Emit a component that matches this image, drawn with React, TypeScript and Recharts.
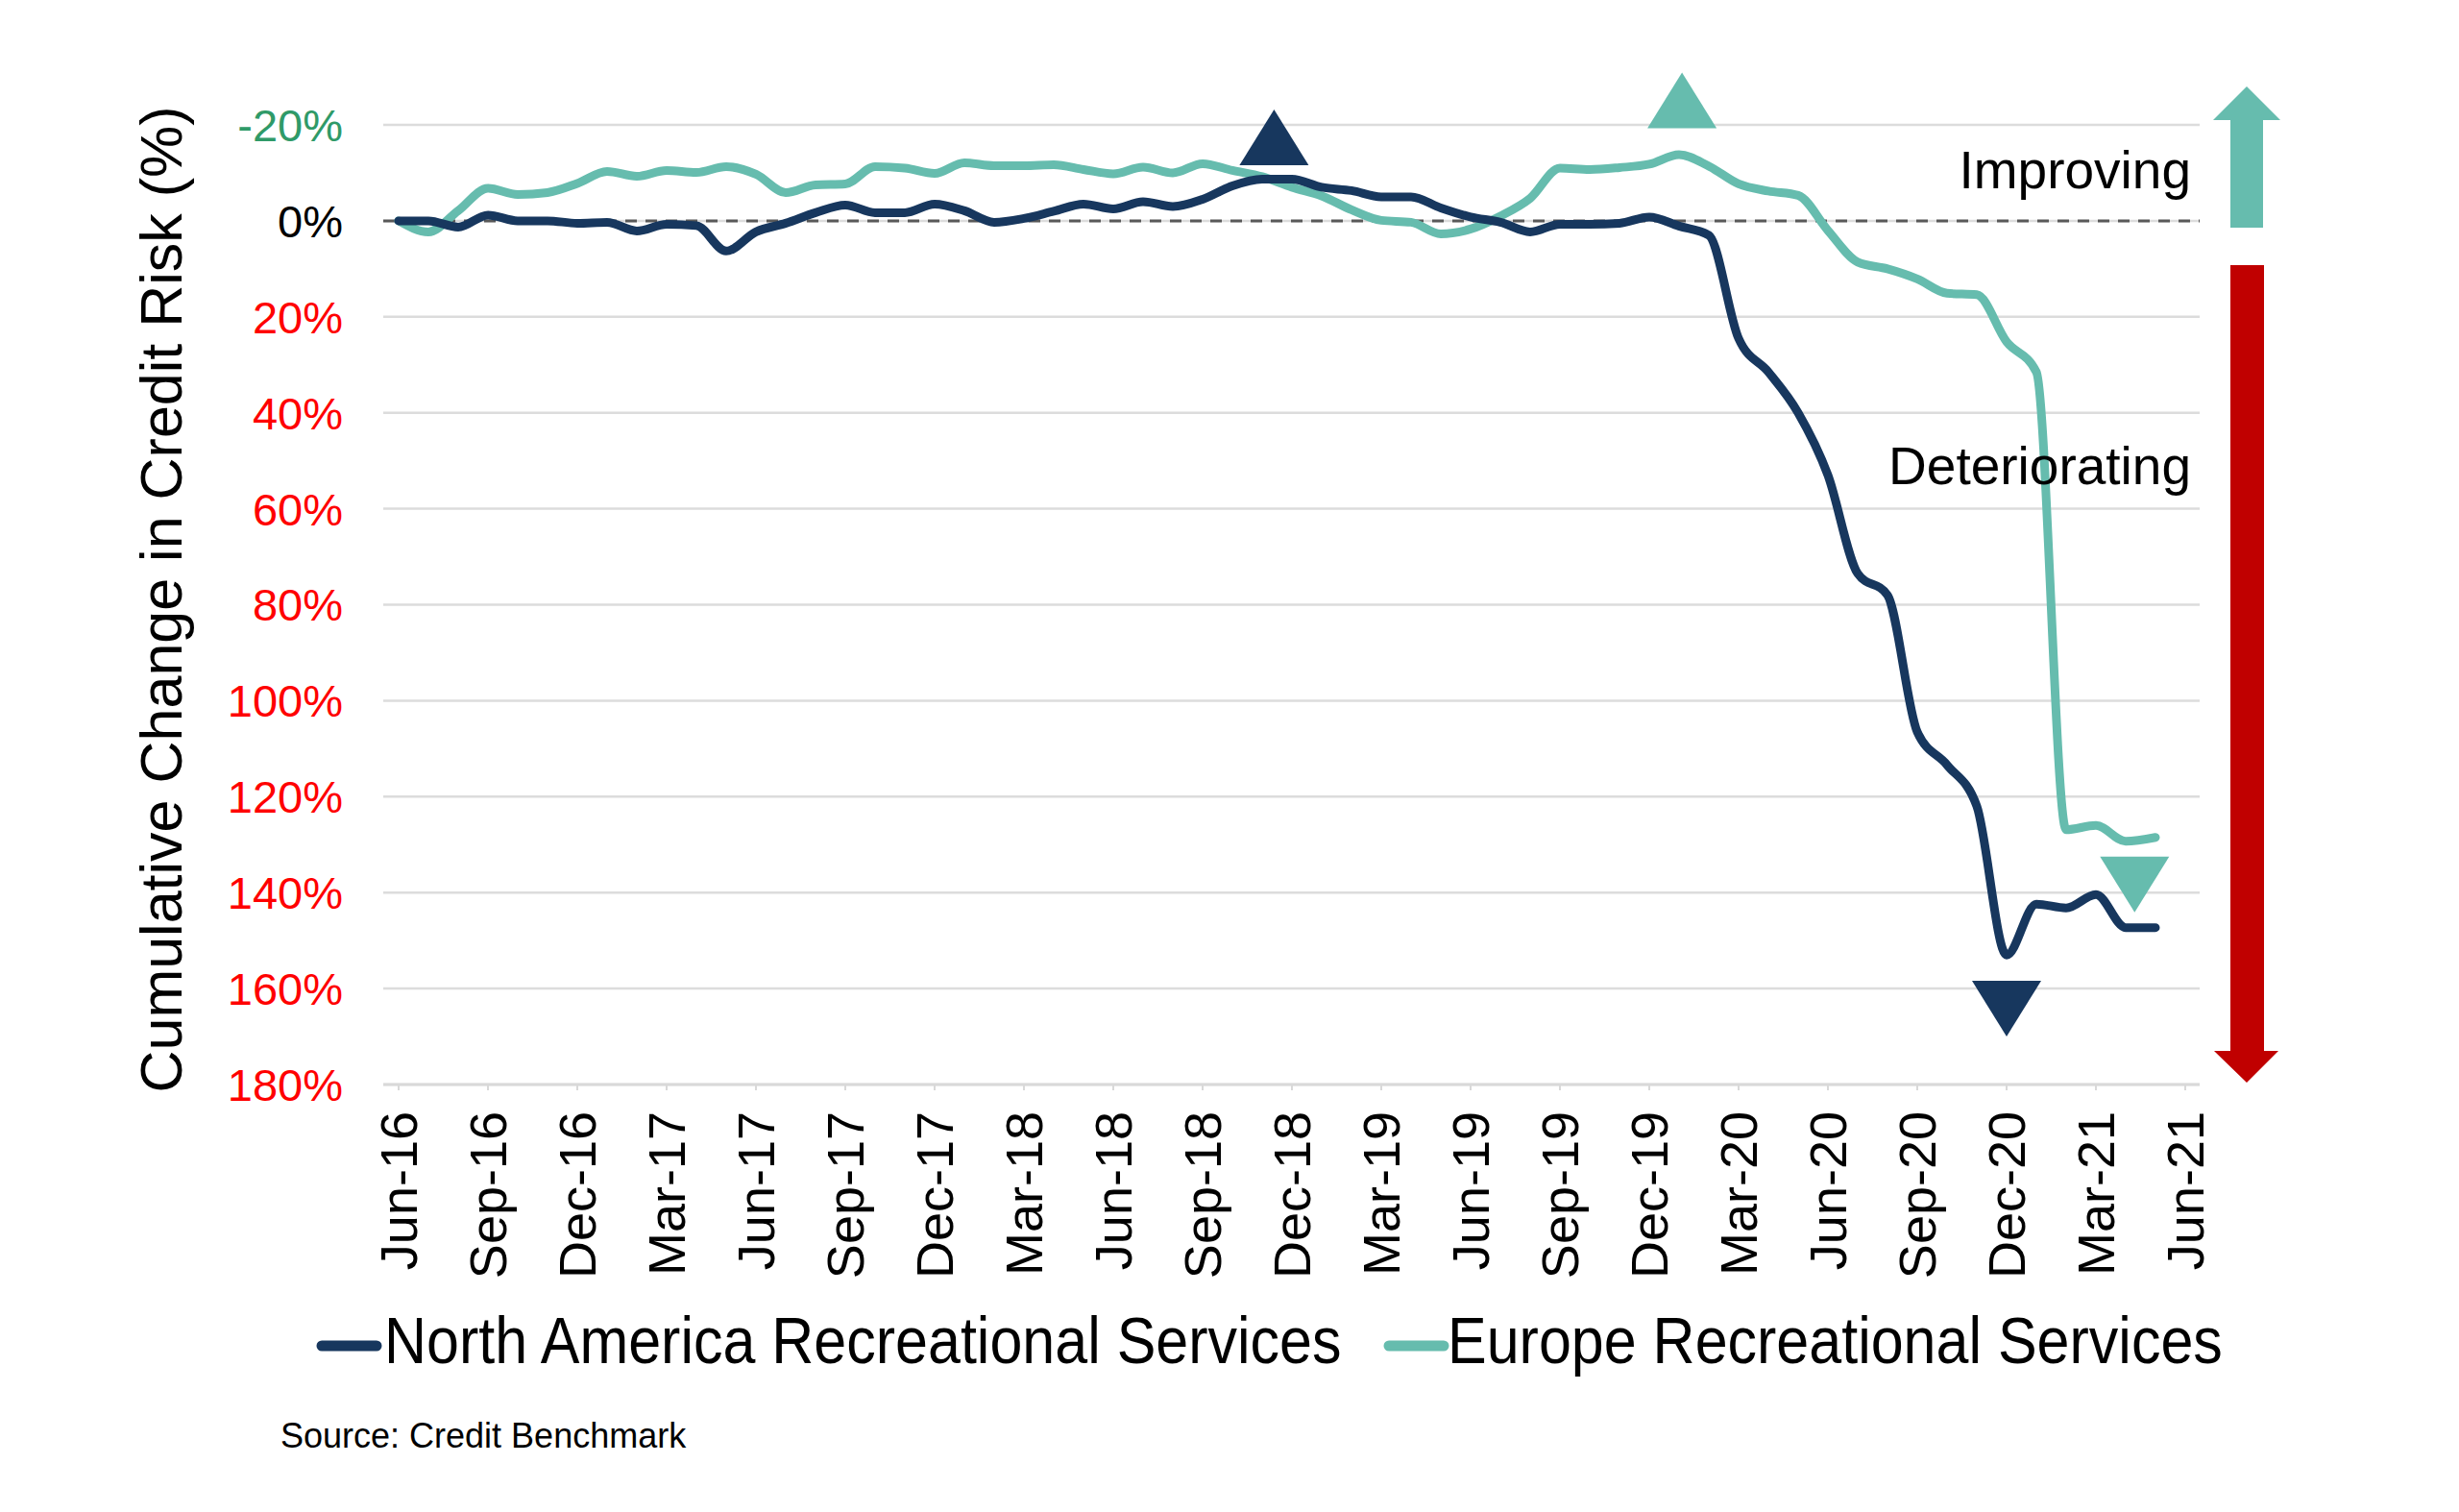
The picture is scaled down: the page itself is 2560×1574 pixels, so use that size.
import React from 'react';
import { LineChart, Line, XAxis, YAxis, CartesianGrid, ReferenceLine, ReferenceDot } from 'recharts';

// Month index 0 = Jun-16 ... 60 = Jun-21
const tickPositions = [0, 3, 6, 9, 12, 15, 18, 21, 24, 27, 30, 33, 36, 39, 42, 45, 48, 51, 54, 57, 60];
const tickLabels = [
  'Jun-16', 'Sep-16', 'Dec-16', 'Mar-17', 'Jun-17', 'Sep-17', 'Dec-17', 'Mar-18', 'Jun-18', 'Sep-18',
  'Dec-18', 'Mar-19', 'Jun-19', 'Sep-19', 'Dec-19', 'Mar-20', 'Jun-20', 'Sep-20', 'Dec-20', 'Mar-21', 'Jun-21',
];

const northAmerica = [
  0, 0, 1.3, -1.2, 0, 0, 0.5, 0.3, 2.1, 0.7,
  1.0, 6.3, 2.3, 0.5, -1.7, -3.3, -1.7, -1.7, -3.5, -2.1,
  0.3, -0.5, -2, -3.5, -2.5, -4, -3, -4.5, -7.3, -8.7,
  -8.7, -7, -6.3, -5, -5, -2.7, -0.8, 0.3, 2.3, 0.7,
  0.7, 0.5, -0.8, 1.1, 3, 24.5, 31.5, 40, 53, 73.5,
  78, 106.5, 113.4, 122, 153, 142.4, 143.2, 140.4, 147.3, 147.3,
];

const europe = [
  0, 2.3, -2.1, -6.8, -5.5, -5.9, -7.8, -10.3, -9.3, -10.5,
  -10.1, -11.3, -9.7, -5.9, -7.5, -7.7, -11.3, -11, -9.9, -12.1,
  -11.5, -11.5, -11.7, -10.7, -9.8, -11.2, -10, -11.9, -10.5, -9.2,
  -7, -5.2, -2.3, -0.1, 0.3, 2.7, 1.7, -1, -4.7, -11,
  -10.7, -11.1, -11.8, -13.8, -11.4, -7.7, -6.2, -5.3, 2, 8.6,
  10, 12.1, 15.1, 15.4, 25.2, 31.5, 126.9, 126, 129.3, 128.5,
];

const yTicks = [-20, 0, 20, 40, 60, 80, 100, 120, 140, 160, 180];
const seriesNames = ['North America Recreational Services', 'Europe Recreational Services'];

// Peak / trough markers in data coordinates (month index, value)
const markerMonths = [29.4, 43.1, 54.0, 58.3];
const markerValues = [-17.4, -25.1, 164.2, 138.3];
const markerDirs = ['up', 'up', 'down', 'down'];
const markerSeries = [0, 1, 0, 1];

const NAVY = '#17375e';
const TEAL = '#66bcae';
const RED = '#c00000';
const FONT = '"Liberation Sans", Arial, Helvetica, sans-serif';

const data = northAmerica.map((v, i) => ({ m: i, na: v, eu: europe[i] }));

const labelFor = (m: number) => {
  const k = tickPositions.indexOf(m);
  return k >= 0 ? tickLabels[k] : '';
};

const XTick = (props: any) => {
  const { x, y, payload } = props;
  return (
    <text
      x={x}
      y={y}
      dy="0.36em"
      textAnchor="end"
      transform={`rotate(-90 ${x} ${y})`}
      fontSize={54}
      fontFamily={FONT}
      fill="#000"
    >
      {labelFor(payload.value)}
    </text>
  );
};

const YTick = (props: any) => {
  const { x, y, payload } = props;
  const v = payload.value;
  const fill = v < 0 ? '#2f9a68' : v === 0 ? '#000000' : '#ff0000';
  return (
    <text x={x} y={y} dy="0.36em" textAnchor="end" fontSize={47} fontFamily={FONT} fill={fill}>
      {`${v}%`}
    </text>
  );
};

const makeTriangle = (dir: string, color: string) => (props: any) => {
  const { cx, cy } = props;
  const w = 72;
  const h = 58;
  const pts =
    dir === 'up'
      ? `${cx - w / 2},${cy + h / 2} ${cx + w / 2},${cy + h / 2} ${cx},${cy - h / 2}`
      : `${cx - w / 2},${cy - h / 2} ${cx + w / 2},${cy - h / 2} ${cx},${cy + h / 2}`;
  return <polygon points={pts} fill={color} />;
};

export default function App() {
  const colors = [NAVY, TEAL];
  return (
    <div style={{ position: 'relative', width: 2560, height: 1574, background: '#fff' }}>
      <style>{'body{margin:0;background:#fff;}'}</style>
      <LineChart
        width={2560}
        height={1574}
        data={data}
        margin={{ top: 130, right: 270, bottom: 245, left: 299 }}
      >
        <CartesianGrid horizontal vertical={false} stroke="#dcdcdc" strokeWidth={2.5} />
        <XAxis
          type="number"
          dataKey="m"
          domain={[0, 60]}
          ticks={tickPositions}
          interval={0}
          padding={{ left: 16, right: 15 }}
          height={200}
          tickSize={6}
          tickMargin={22}
          tick={<XTick />}
          axisLine={{ stroke: '#d9d9d9', strokeWidth: 3 }}
          tickLine={{ stroke: '#d9d9d9', strokeWidth: 2 }}
        />
        <YAxis
          type="number"
          domain={[-20, 180]}
          ticks={yTicks}
          interval={0}
          reversed
          width={100}
          axisLine={false}
          tickLine={false}
          tickSize={0}
          tickMargin={42}
          tick={<YTick />}
        />
        <ReferenceLine y={0} stroke="#595959" strokeWidth={3} strokeDasharray="12 9" />
        <Line
          type="monotone"
          dataKey="eu"
          name={seriesNames[1]}
          stroke={TEAL}
          strokeWidth={9}
          dot={false}
          activeDot={false}
          strokeLinecap="round"
          strokeLinejoin="round"
          isAnimationActive={false}
        />
        <Line
          type="monotone"
          dataKey="na"
          name={seriesNames[0]}
          stroke={NAVY}
          strokeWidth={9}
          dot={false}
          activeDot={false}
          strokeLinecap="round"
          strokeLinejoin="round"
          isAnimationActive={false}
        />
        {markerMonths.map((mx, k) => (
          <ReferenceDot
            key={k}
            x={mx}
            y={markerValues[k]}
            r={30}
            ifOverflow="visible"
            shape={makeTriangle(markerDirs[k], colors[markerSeries[k]])}
          />
        ))}
      </LineChart>

      <svg
        width={2560}
        height={1574}
        style={{ position: 'absolute', left: 0, top: 0, pointerEvents: 'none' }}
      >
        {/* Y axis title */}
        <text
          x={189}
          y={624}
          textAnchor="middle"
          transform="rotate(-90 189 624)"
          fontSize={61}
          fontFamily={FONT}
          fill="#000"
        >
          Cumulative Change in Credit Risk (%)
        </text>

        {/* Side annotations */}
        <text x={2281} y={196} textAnchor="end" fontSize={55} fontFamily={FONT} fill="#000">
          Improving
        </text>
        <text x={2281} y={504} textAnchor="end" fontSize={55} fontFamily={FONT} fill="#000">
          Deteriorating
        </text>

        {/* Improving arrow */}
        <polygon
          points="2322,237 2356,237 2356,125 2374,125 2339,90 2304,125 2322,125"
          fill={TEAL}
        />
        {/* Deteriorating arrow */}
        <polygon
          points="2322,276 2357,276 2357,1094 2372,1094 2339,1127 2305,1094 2322,1094"
          fill={RED}
        />

        {/* Legend */}
        <line x1={335} y1={1401} x2={392} y2={1401} stroke={NAVY} strokeWidth={11} strokeLinecap="round" />
        <text x={400} y={1419} fontSize={61} fontFamily={FONT} fill="#000" transform="translate(400 1419) scale(1 1.12) translate(-400 -1419)">
          {seriesNames[0]}
        </text>
        <line x1={1446} y1={1401} x2={1503} y2={1401} stroke={TEAL} strokeWidth={11} strokeLinecap="round" />
        <text x={1507} y={1419} fontSize={61} fontFamily={FONT} fill="#000" transform="translate(1507 1419) scale(1 1.12) translate(-1507 -1419)">
          {seriesNames[1]}
        </text>

        {/* Source */}
        <text x={292} y={1507} fontSize={36} fontFamily={FONT} fill="#000">
          Source: Credit Benchmark
        </text>
      </svg>
    </div>
  );
}
